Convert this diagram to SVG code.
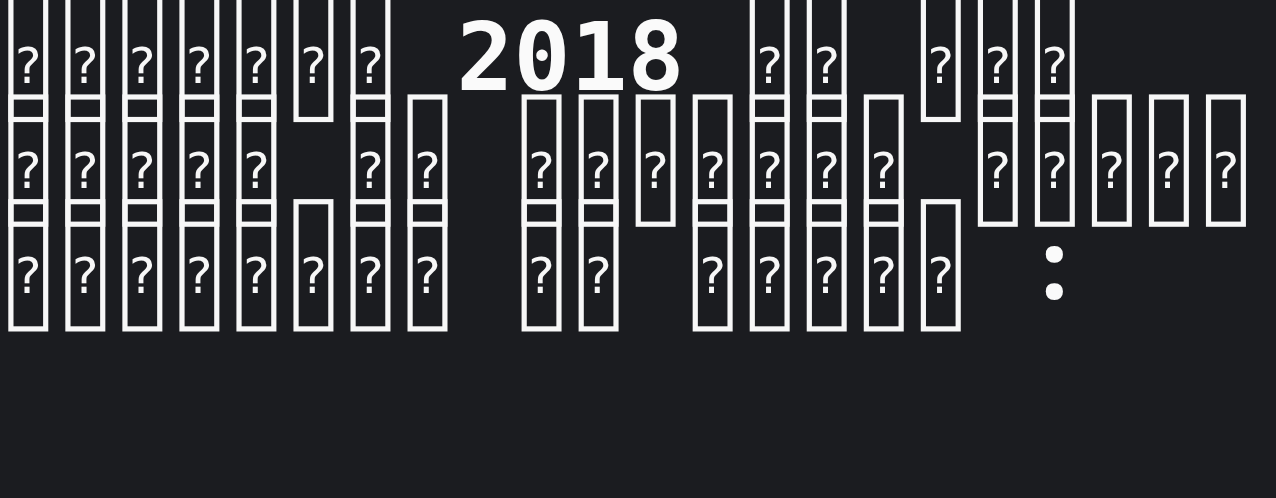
<svg xmlns="http://www.w3.org/2000/svg" width="1276" height="498" viewBox="0 0 1276 498">
<style>
.bg{fill:#1b1c20}
.box{fill:none;stroke:#f7f7f7;stroke-width:5.2}
.q{font-family:"DejaVu Sans","Liberation Sans",sans-serif;font-size:50px;fill:#f7f7f7;text-anchor:middle}
.big{font-family:"DejaVu Sans Mono","Liberation Mono",monospace;font-weight:bold;font-size:94.7px;fill:#fafafa}
.colon{font-family:"Noto Sans Mono","DejaVu Sans Mono",monospace;font-weight:bold;font-size:94.7px;fill:#fafafa;text-anchor:middle}
</style>
<defs>
<g id="tofu"><rect class="box" x="2.6" y="2.6" width="34.8" height="127.2"/></g>
</defs>
<rect class="bg" x="0" y="0" width="1276" height="498"/>
<g id="row1">
<g transform="translate(8.3,-10.3)"><use href="#tofu"/><text class="q" x="20" y="93.6">?</text></g>
<g transform="translate(65.33,-10.3)"><use href="#tofu"/><text class="q" x="20" y="93.6">?</text></g>
<g transform="translate(122.36,-10.3)"><use href="#tofu"/><text class="q" x="20" y="93.6">?</text></g>
<g transform="translate(179.39,-10.3)"><use href="#tofu"/><text class="q" x="20" y="93.6">?</text></g>
<g transform="translate(236.42,-10.3)"><use href="#tofu"/><text class="q" x="20" y="93.6">?</text></g>
<g transform="translate(293.45,-10.3)"><use href="#tofu"/><text class="q" x="20" y="93.6">?</text></g>
<g transform="translate(350.48,-10.3)"><use href="#tofu"/><text class="q" x="20" y="93.6">?</text></g>
<text class="big" x="456.5 513.5 570.5 627.6" y="90">2018</text>
<g transform="translate(749.69,-10.3)"><use href="#tofu"/><text class="q" x="20" y="93.6">?</text></g>
<g transform="translate(806.72,-10.3)"><use href="#tofu"/><text class="q" x="20" y="93.6">?</text></g>
<g transform="translate(920.78,-10.3)"><use href="#tofu"/><text class="q" x="20" y="93.6">?</text></g>
<g transform="translate(977.81,-10.3)"><use href="#tofu"/><text class="q" x="20" y="93.6">?</text></g>
<g transform="translate(1034.84,-10.3)"><use href="#tofu"/><text class="q" x="20" y="93.6">?</text></g>
</g>
<g id="row2">
<g transform="translate(8.3,94.4)"><use href="#tofu"/><text class="q" x="20" y="93.6">?</text></g>
<g transform="translate(65.33,94.4)"><use href="#tofu"/><text class="q" x="20" y="93.6">?</text></g>
<g transform="translate(122.36,94.4)"><use href="#tofu"/><text class="q" x="20" y="93.6">?</text></g>
<g transform="translate(179.39,94.4)"><use href="#tofu"/><text class="q" x="20" y="93.6">?</text></g>
<g transform="translate(236.42,94.4)"><use href="#tofu"/><text class="q" x="20" y="93.6">?</text></g>
<g transform="translate(350.48,94.4)"><use href="#tofu"/><text class="q" x="20" y="93.6">?</text></g>
<g transform="translate(407.51,94.4)"><use href="#tofu"/><text class="q" x="20" y="93.6">?</text></g>
<g transform="translate(521.57,94.4)"><use href="#tofu"/><text class="q" x="20" y="93.6">?</text></g>
<g transform="translate(578.6,94.4)"><use href="#tofu"/><text class="q" x="20" y="93.6">?</text></g>
<g transform="translate(635.63,94.4)"><use href="#tofu"/><text class="q" x="20" y="93.6">?</text></g>
<g transform="translate(692.66,94.4)"><use href="#tofu"/><text class="q" x="20" y="93.6">?</text></g>
<g transform="translate(749.69,94.4)"><use href="#tofu"/><text class="q" x="20" y="93.6">?</text></g>
<g transform="translate(806.72,94.4)"><use href="#tofu"/><text class="q" x="20" y="93.6">?</text></g>
<g transform="translate(863.75,94.4)"><use href="#tofu"/><text class="q" x="20" y="93.6">?</text></g>
<g transform="translate(977.81,94.4)"><use href="#tofu"/><text class="q" x="20" y="93.6">?</text></g>
<g transform="translate(1034.84,94.4)"><use href="#tofu"/><text class="q" x="20" y="93.6">?</text></g>
<g transform="translate(1091.87,94.4)"><use href="#tofu"/><text class="q" x="20" y="93.6">?</text></g>
<g transform="translate(1148.9,94.4)"><use href="#tofu"/><text class="q" x="20" y="93.6">?</text></g>
<g transform="translate(1205.93,94.4)"><use href="#tofu"/><text class="q" x="20" y="93.6">?</text></g>
</g>
<g id="row3">
<g transform="translate(8.3,199.1)"><use href="#tofu"/><text class="q" x="20" y="93.6">?</text></g>
<g transform="translate(65.33,199.1)"><use href="#tofu"/><text class="q" x="20" y="93.6">?</text></g>
<g transform="translate(122.36,199.1)"><use href="#tofu"/><text class="q" x="20" y="93.6">?</text></g>
<g transform="translate(179.39,199.1)"><use href="#tofu"/><text class="q" x="20" y="93.6">?</text></g>
<g transform="translate(236.42,199.1)"><use href="#tofu"/><text class="q" x="20" y="93.6">?</text></g>
<g transform="translate(293.45,199.1)"><use href="#tofu"/><text class="q" x="20" y="93.6">?</text></g>
<g transform="translate(350.48,199.1)"><use href="#tofu"/><text class="q" x="20" y="93.6">?</text></g>
<g transform="translate(407.51,199.1)"><use href="#tofu"/><text class="q" x="20" y="93.6">?</text></g>
<g transform="translate(521.57,199.1)"><use href="#tofu"/><text class="q" x="20" y="93.6">?</text></g>
<g transform="translate(578.6,199.1)"><use href="#tofu"/><text class="q" x="20" y="93.6">?</text></g>
<g transform="translate(692.66,199.1)"><use href="#tofu"/><text class="q" x="20" y="93.6">?</text></g>
<g transform="translate(749.69,199.1)"><use href="#tofu"/><text class="q" x="20" y="93.6">?</text></g>
<g transform="translate(806.72,199.1)"><use href="#tofu"/><text class="q" x="20" y="93.6">?</text></g>
<g transform="translate(863.75,199.1)"><use href="#tofu"/><text class="q" x="20" y="93.6">?</text></g>
<g transform="translate(920.78,199.1)"><use href="#tofu"/><text class="q" x="20" y="93.6">?</text></g>
<text class="colon" x="1054.3" y="299.4">:</text>
</g>
</svg>
